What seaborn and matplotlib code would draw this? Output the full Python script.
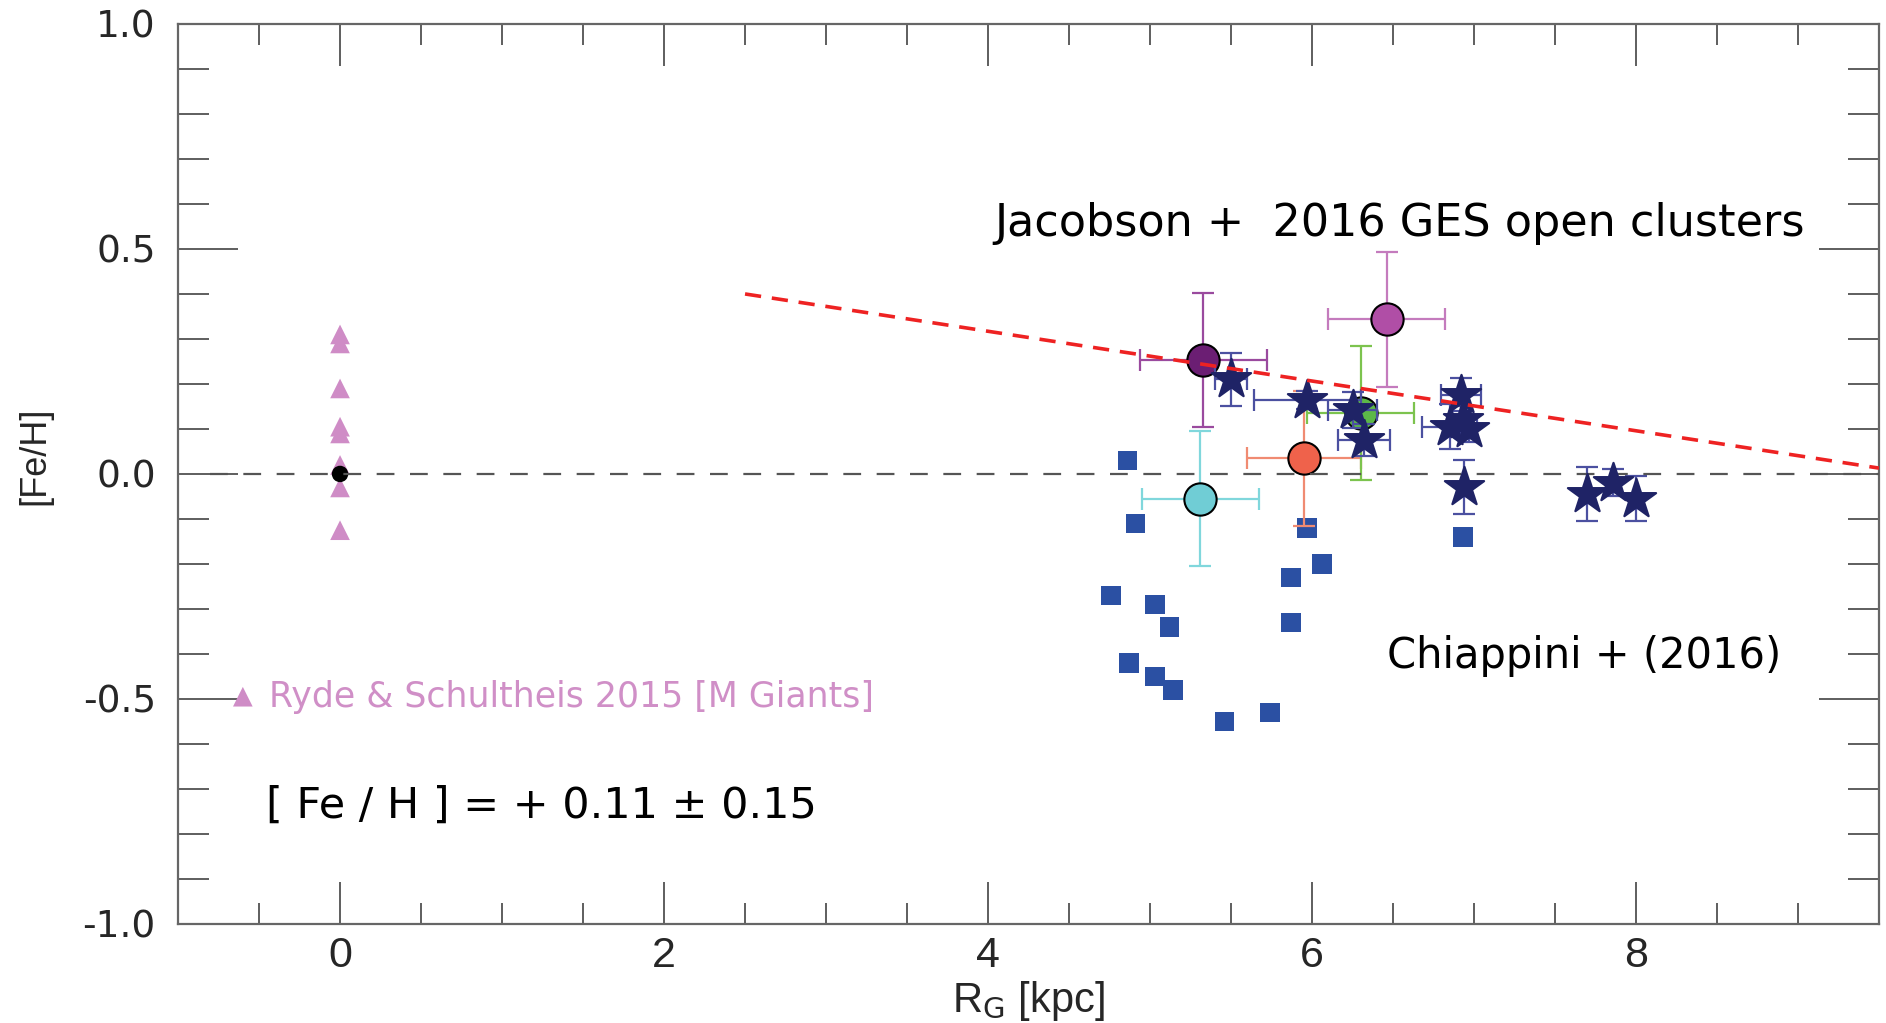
import matplotlib
matplotlib.use('Agg')
import matplotlib.pyplot as plt
import seaborn as sns
from matplotlib.ticker import MultipleLocator

# Ryde & Schultheis 2015 M giants at the Galactic centre
tri_x = [0, 0, 0, 0, 0, 0, 0, 0]
tri_y = [0.31, 0.29, 0.19, 0.105, 0.09, 0.02, -0.03, -0.125]

# Chiappini + (2016) squares
sq_x = [4.86, 4.91, 4.76, 5.03, 5.12, 4.87, 5.03, 5.14, 5.46, 5.74, 5.87, 5.87, 6.06, 5.97, 6.93]
sq_y = [0.03, -0.11, -0.27, -0.29, -0.34, -0.42, -0.45, -0.48, -0.55, -0.53, -0.23, -0.33, -0.20, -0.12, -0.14]

# Jacobson + 2016 GES open clusters (stars)
star_x = [5.50, 5.97, 6.25, 6.32, 6.92, 6.85, 6.93, 6.97, 6.94, 7.70, 7.86, 8.00]
star_y = [0.21, 0.164, 0.142, 0.075, 0.176, 0.105, 0.12, 0.10, -0.028, -0.045, -0.02, -0.055]
star_xerr = [0.10, 0.33, 0.15, 0.16, 0.125, 0.17, 0.0, 0.0, 0.0, 0.0, 0.0, 0.0]
star_yerr = [0.058, 0.02, 0.04, 0.035, 0.037, 0.05, 0.03, 0.03, 0.06, 0.06, 0.03, 0.05]

# coloured circles with error bars
circ_x = [5.33, 6.46, 5.95, 5.31, 6.30]
circ_y = [0.253, 0.344, 0.035, -0.055, 0.135]
circ_xerr = [0.39, 0.36, 0.35, 0.36, 0.33]
circ_yerr = [0.148, 0.15, 0.15, 0.15, 0.149]
circ_face = ['#6b1e73', '#b04ea6', '#ef624b', '#70cdd5', '#5cb848']
circ_bar = ['#9a4a9e', '#c47bbd', '#f08b72', '#80d7dc', '#7cc34e']

# gradient line and solar reference
grad_x = [2.5, 9.5]
grad_y = [0.40, 0.013]
zero_x = [-0.8, 9.5]
zero_y = [0.0, 0.0]

x_ticks = [0, 2, 4, 6, 8]
y_ticks = [-1.0, -0.5, 0.0, 0.5, 1.0]

sns.set_theme(style='ticks')
plt.rcParams['font.family'] = ['Liberation Sans', 'DejaVu Sans']

fig = plt.figure(figsize=(18.86, 10.23), dpi=100)
ax = fig.add_axes([0.0944, 0.0968, 0.9019, 0.8798])

# Chiappini squares
sns.scatterplot(x=sq_x, y=sq_y, marker='s', s=200, color='#2b50a3', edgecolor='none', ax=ax, zorder=3)

# triangles and the black point
sns.scatterplot(x=tri_x, y=tri_y, marker='^', s=200, color='#cf8cc6', edgecolor='none', ax=ax, zorder=3)
sns.scatterplot(x=[0], y=[0], marker='o', s=140, color='black', edgecolor='none', ax=ax, zorder=4)

# circles
for i in range(len(circ_x)):
    ax.errorbar(circ_x[i], circ_y[i], xerr=circ_xerr[i], yerr=circ_yerr[i], fmt='none',
                ecolor=circ_bar[i], elinewidth=1.6, capsize=8, capthick=1.6, zorder=4)
    sns.scatterplot(x=[circ_x[i]], y=[circ_y[i]], marker='o', s=540, color=circ_face[i],
                    edgecolor='black', linewidth=1.5, ax=ax, zorder=5)

# stars
ax.errorbar(star_x, star_y, xerr=star_xerr, yerr=star_yerr, fmt='none',
            ecolor='#4b50a0', elinewidth=1.6, capsize=8, capthick=1.6, zorder=6)
sns.scatterplot(x=star_x, y=star_y, marker='*', s=880, color='#1f2366', edgecolor='#1f2366',
                linewidth=1.6, ax=ax, zorder=7)

# reference lines
ax.plot(zero_x, zero_y, color='#555555', lw=1.6, linestyle=(0, (8, 7)), zorder=6)
ax.plot(grad_x, grad_y, color='#ee2222', lw=2.6, linestyle=(0, (4.5, 3)), zorder=8)

# annotations
ax.text(6.54, 0.556, 'Jacobson +  2016 GES open clusters', fontsize=32, family='DejaVu Sans',
        ha='center', va='center', color='black')
ax.text(7.68, -0.405, 'Chiappini + (2016)', fontsize=30, family='DejaVu Sans',
        ha='center', va='center', color='black')
sns.scatterplot(x=[-0.6], y=[-0.495], marker='^', s=200, color='#cf8cc6', edgecolor='none', ax=ax, zorder=3)
ax.text(-0.44, -0.495, 'Ryde & Schultheis 2015 [M Giants]', fontsize=25, family='DejaVu Sans',
        color='#d08fc7', ha='left', va='center')
ax.text(-0.46, -0.738, '[ Fe / H ] = + 0.11 \u00b1 0.15', fontsize=31, family='DejaVu Sans',
        ha='left', va='center', color='black')

# axes
ax.set_xlim(-1.0, 9.5)
ax.set_ylim(-1.0, 1.0)
ax.set_xticks(x_ticks)
ax.set_yticks(y_ticks)
ax.set_yticklabels(['%.1f' % v for v in y_ticks])
ax.xaxis.set_minor_locator(MultipleLocator(0.5))
ax.yaxis.set_minor_locator(MultipleLocator(0.1))
ax.tick_params(axis='both', which='both', direction='in', top=True, right=True,
               color='#333333', width=1.1)
ax.tick_params(axis='x', which='major', length=30, pad=9, labelsize=31)
ax.tick_params(axis='x', which='minor', length=15)
ax.tick_params(axis='y', which='major', length=43, pad=16, labelsize=27)
ax.tick_params(axis='y', which='minor', length=22)
for lab in ax.get_yticklabels():
    lab.set_family('DejaVu Sans')

for sp in ax.spines.values():
    sp.set_color('#666666')
    sp.set_linewidth(1.6)

ax.set_xlabel(r'R$_\mathrm{G}$ [kpc]', fontsize=30, labelpad=2)
ax.set_ylabel('[Fe/H]', fontsize=26)
ax.yaxis.set_label_coords(-0.074, 0.52)

fig.savefig('out.png', dpi=100)
